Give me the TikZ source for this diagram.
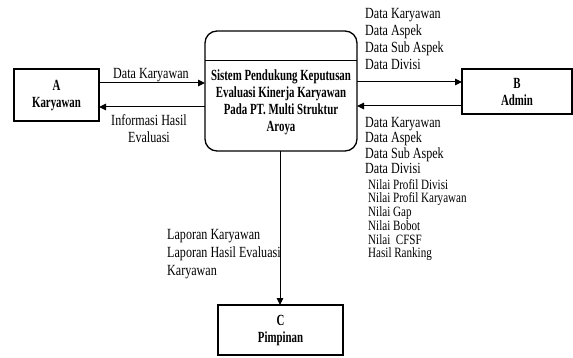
\documentclass[tikz,border=0pt]{standalone}
\usepackage{fontspec}
\usetikzlibrary{arrows.meta}
\newfontfamily\regf[FakeStretch=0.78]{Liberation Serif}
\newfontfamily\boldf[FakeStretch=0.7]{Liberation Serif Bold}
\tikzset{
  ent/.style={draw, line width=1.3pt, inner sep=0pt},
  flow/.style={line width=1pt, -{Triangle[length=7pt,width=6.5pt]}},
  lbl/.style={font=\regf\fontsize{15.5}{17}\selectfont, inner sep=0pt, align=left, anchor=west},
  btxt/.style={font=\boldf\fontsize{15.5}{17}\selectfont, inner sep=0pt, align=center},
}
\begin{document}
\begin{tikzpicture}[x=1pt,y=-1pt]
\useasboundingbox (0,0) rectangle (573,358);
% entities
\draw[ent] (14,69) rectangle (99,121);
\node[btxt] (At) at (56.5,96) {A\\Karyawan};
\draw[ent] (462,69) rectangle (572,114);
\node[btxt] (Bt) at (517,92) {B\\Admin};
\draw[ent] (218,305) rectangle (343,355);
\node[btxt] (Ct) at (280.5,331) {C\\Pimpinan};
% process
\draw[ent, rounded corners=12pt] (205,31) rectangle (357,151);
\draw[line width=1pt] (205,61) -- (357,61);
\node[btxt] (Pt) at (281,102) {Sistem Pendukung Keputusan\\Evaluasi Kinerja Karyawan\\Pada PT. Multi Struktur\\Aroya};
% coordinates for flows
\coordinate (a1) at (99,83);  \coordinate (p1) at (205,83);
\coordinate (p2) at (205,107); \coordinate (a2) at (99,107);
\coordinate (p3) at (357,82); \coordinate (b3) at (462,82);
\coordinate (b4) at (462,106); \coordinate (p4) at (357,106);
\coordinate (p5) at (280,151); \coordinate (c5) at (280,305);
\draw[flow] (a1) -- (p1);
\draw[flow] (p2) -- (a2);
\draw[flow] (p3) -- (b3);
\draw[flow] (b4) -- (p4);
\draw[flow] (p5) -- (c5);
% labels
\node[lbl] (l1) at (113,75) {Data Karyawan};
\node[lbl, align=center, anchor=center] (l2) at (149,129) {Informasi Hasil\\Evaluasi};
\node[lbl] (l3) at (365,39) {Data Karyawan\\Data Aspek\\Data Sub Aspek\\Data Divisi};
\node[lbl, font=\regf\fontsize{15.5}{15.3}\selectfont] (l4) at (365,145.5) {Data Karyawan\\Data Aspek\\Data Sub Aspek\\Data Divisi};
\node[lbl, font=\regf\fontsize{14.2}{13.7}\selectfont] (l5) at (368,220) {Nilai Profil Divisi\\Nilai Profil Karyawan\\Nilai Gap\\Nilai Bobot\\Nilai~ CFSF\\Hasil Ranking};
\node[lbl, font=\regf\fontsize{15.5}{18}\selectfont] (l6) at (167,254) {Laporan Karyawan\\Laporan Hasil Evaluasi\\Karyawan};
\end{tikzpicture}
\end{document}
